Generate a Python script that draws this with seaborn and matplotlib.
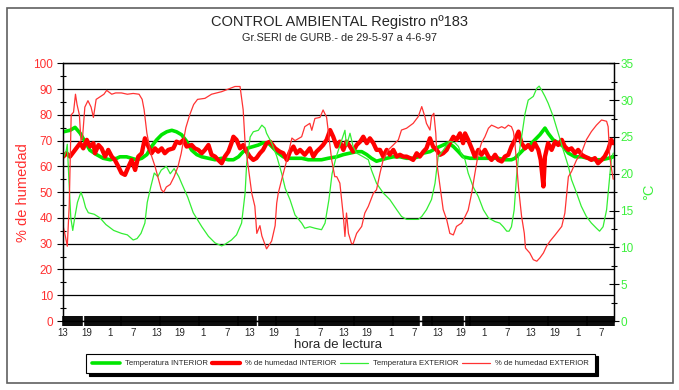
import matplotlib
matplotlib.use("Agg")
import matplotlib.pyplot as plt
from matplotlib.lines import Line2D
from matplotlib.patches import Rectangle
from matplotlib.ticker import FixedLocator, MultipleLocator
import numpy as np
import pandas as pd
import seaborn as sns

title = "CONTROL AMBIENTAL Registro nº183"
subtitle = "Gr.SERI de GURB.- de 29-5-97 a 4-6-97"
series_names = ["Temperatura INTERIOR", "% de humedad INTERIOR",
                "Temperatura EXTERIOR", "% de humedad EXTERIOR"]
hour_labels = ["13", "19", "1", "7"] * 6
label_hours = list(range(0, 139, 6))
axis_gaps = [5.2, 49.9, 91.8, 102.9]

# (hours since first reading, value)
temp_int = [(0.1, 25.7), (1.8, 25.9), (3.1, 26.3), (4.4, 25.5), (5.6, 24.4), (6.9, 23.2), (8.6, 22.6),
            (10.3, 22.1), (12.1, 21.9), (13.8, 22.1), (14.6, 22.3), (16.3, 22.3), (17.6, 22.1), (18.9, 21.9),
            (20.2, 22.1), (21.5, 22.6), (22.7, 23.7), (24.0, 24.6), (25.3, 25.3), (26.6, 25.7), (27.9, 25.9),
            (29.1, 25.7), (30.4, 25.3), (31.7, 24.4), (33.0, 23.2), (34.3, 22.6), (35.6, 22.3), (37.3, 22.1),
            (39.0, 21.9), (40.7, 22.1), (42.4, 21.9), (43.7, 21.9), (45.0, 22.3), (46.2, 23.0), (47.5, 23.5),
            (48.8, 23.7), (50.1, 23.9), (51.3, 24.2), (52.6, 24.2), (53.9, 23.5), (55.2, 22.8), (56.5, 22.3),
            (57.8, 22.1), (59.5, 22.1), (61.2, 22.1), (62.9, 21.9), (64.6, 21.9), (66.3, 21.9), (68.0, 22.1),
            (70.2, 22.3), (71.9, 22.6), (73.6, 22.8), (75.3, 23.0), (76.6, 23.0), (77.9, 22.6), (79.1, 22.1),
            (80.4, 21.7), (81.7, 21.9), (83.0, 22.1), (84.7, 22.3), (86.4, 22.3), (88.1, 22.1), (89.8, 22.1),
            (91.1, 22.3), (92.4, 22.8), (94.1, 23.0), (95.8, 23.5), (97.5, 23.9), (98.8, 24.2), (100.1, 23.7),
            (101.4, 23.0), (102.6, 22.3), (104.4, 22.1), (106.5, 22.1), (108.2, 22.1), (109.9, 22.1),
            (111.6, 22.1), (113.3, 21.9), (115.0, 21.9), (115.9, 22.1), (117.2, 22.8), (118.5, 23.5),
            (119.7, 23.9), (121.0, 24.6), (122.3, 25.3), (123.6, 26.2), (124.4, 25.5), (125.7, 24.6),
            (127.0, 24.2), (128.3, 23.7), (129.6, 22.8), (131.3, 22.3), (133.0, 22.3), (134.7, 22.1),
            (136.4, 21.9), (138.1, 21.9), (139.8, 22.1), (141.1, 22.3)]

hum_int = [(0.1, 63.8), (0.9, 65.1), (1.8, 63.8), (3.1, 66.4), (4.4, 69.0), (5.2, 67.0), (6.1, 70.3),
           (6.9, 67.7), (7.8, 69.0), (8.2, 65.1), (9.1, 68.3), (9.9, 67.0), (10.8, 63.8), (11.6, 66.4),
           (12.5, 63.8), (13.3, 62.5), (14.2, 59.9), (15.0, 57.4), (15.9, 56.7), (16.8, 59.9), (17.6, 62.5),
           (18.5, 58.6), (19.3, 63.8), (20.2, 65.1), (21.0, 70.9), (21.9, 67.7), (22.7, 65.1), (23.6, 67.0),
           (24.4, 65.7), (25.3, 67.0), (26.1, 65.1), (27.0, 66.4), (28.3, 67.0), (29.1, 69.6), (30.0, 69.0),
           (30.9, 70.3), (31.7, 67.7), (33.0, 68.3), (33.8, 67.0), (34.7, 66.4), (35.6, 65.1), (36.4, 66.4),
           (37.3, 68.3), (38.1, 64.5), (39.0, 63.8), (39.8, 62.5), (40.7, 61.2), (41.5, 63.8), (42.4, 65.7),
           (43.2, 69.0), (43.7, 71.5), (44.5, 70.3), (45.4, 67.0), (46.2, 68.3), (47.1, 65.7), (47.9, 63.8),
           (48.8, 62.5), (49.6, 63.2), (50.5, 65.1), (51.3, 66.4), (52.2, 69.0), (53.1, 69.6), (54.4, 67.0),
           (55.6, 65.7), (56.5, 65.1), (57.4, 62.5), (58.2, 65.7), (59.1, 67.7), (59.9, 65.1), (60.8, 66.4),
           (62.0, 64.5), (63.3, 67.0), (64.2, 63.8), (65.0, 65.7), (65.9, 67.0), (66.7, 68.3), (67.6, 70.3),
           (68.5, 74.1), (69.3, 71.5), (70.2, 67.7), (71.0, 69.6), (71.9, 66.4), (72.7, 69.6), (73.6, 67.7),
           (74.4, 65.7), (75.3, 68.3), (76.2, 69.6), (77.0, 71.5), (77.9, 69.0), (78.7, 70.9), (79.6, 69.0),
           (80.4, 66.4), (81.3, 66.4), (82.1, 63.8), (83.0, 66.4), (83.8, 64.5), (84.7, 66.4), (85.6, 63.8),
           (86.4, 64.5), (87.3, 63.8), (88.1, 63.8), (89.0, 63.2), (89.8, 62.5), (90.7, 65.1), (91.5, 63.8),
           (92.4, 65.7), (93.2, 67.0), (94.1, 70.9), (94.9, 67.7), (95.8, 66.4), (96.7, 64.5), (97.5, 65.1),
           (98.4, 66.4), (99.2, 69.0), (100.1, 71.5), (100.9, 70.3), (101.8, 72.8), (102.6, 69.0),
           (103.1, 72.8), (103.9, 70.3), (104.8, 67.0), (105.6, 63.8), (106.5, 66.4), (107.3, 64.5),
           (108.2, 66.4), (109.1, 63.8), (109.9, 62.5), (110.8, 64.5), (111.6, 62.5), (112.5, 61.9),
           (113.3, 63.8), (114.2, 64.5), (115.0, 67.7), (115.9, 70.3), (116.8, 73.5), (117.6, 69.0),
           (118.5, 67.0), (119.3, 68.3), (120.2, 66.4), (121.0, 69.0), (121.9, 66.4), (122.5, 62.5),
           (123.2, 52.2), (123.6, 63.8), (124.4, 69.0), (125.3, 66.4), (126.2, 69.6), (127.0, 68.3),
           (127.9, 70.3), (128.7, 67.7), (129.6, 66.4), (130.4, 67.0), (131.3, 65.1), (132.1, 66.4),
           (133.0, 64.5), (133.8, 63.8), (134.7, 63.2), (135.5, 62.5), (136.4, 63.2), (137.2, 61.2),
           (138.1, 62.5), (138.9, 63.8), (139.8, 66.4), (140.6, 70.3), (141.1, 69.0)]

temp_ext = [(0, 22.0), (0.8, 23.1), (1.1, 24.0), (1.5, 19.3), (2.0, 14.0), (2.5, 12.3), (3.0, 14.0),
            (3.7, 16.1), (4.6, 17.5), (5.2, 16.6), (5.8, 15.4), (6.5, 14.7), (8, 14.5), (9.5, 14.0),
            (11, 13.1), (13, 12.3), (15, 11.9), (16.5, 11.7), (18, 11.0), (19, 11.2), (20, 11.9), (21, 13.3),
            (21.6, 16.1), (22.5, 18.2), (23.4, 20.1), (24.3, 19.6), (25.2, 20.5), (26.5, 21.0), (27.5, 20.0),
            (28.5, 20.7), (29.7, 19.6), (30.5, 18.6), (32, 16.8), (33.4, 14.7), (35.6, 12.8), (37.3, 11.5),
            (39.0, 10.6), (40.7, 10.2), (41.5, 10.4), (43.2, 11.0), (44.5, 11.7), (45.8, 13.3), (46.7, 17.4),
            (47.1, 21.4), (48.0, 25.0), (48.8, 25.7), (50.1, 25.9), (51.0, 26.6), (51.8, 26.2), (52.2, 25.5),
            (53.5, 24.2), (54.8, 22.4), (56.1, 20.0), (57.0, 18.0), (58.2, 16.5), (59.5, 14.4), (61.2, 13.3),
            (62.0, 12.6), (63.3, 12.8), (64.6, 12.6), (66.3, 12.4), (67.2, 13.3), (68.2, 16.5), (69.0, 20.0),
            (70.0, 22.2), (71.0, 23.8), (72.3, 25.9), (72.7, 23.8), (73.6, 25.5), (74.4, 23.7), (75.3, 22.8),
            (77.0, 22.3), (78.3, 21.9), (79.1, 20.5), (80.4, 18.7), (82.1, 17.4), (83.8, 16.5), (85.6, 15.1),
            (86.8, 14.2), (88.1, 13.8), (89.8, 13.8), (91.1, 13.8), (92.0, 14.2), (93.2, 15.1), (94.5, 16.5),
            (95.4, 18.7), (95.8, 20.5), (96.2, 22.3), (97.5, 23.2), (98.4, 23.9), (99.2, 24.4), (100.5, 24.2),
            (101.4, 23.7), (102.2, 22.6), (103.1, 21.9), (103.9, 20.1), (105.2, 18.2), (106.5, 16.9),
            (107.8, 15.1), (109.1, 14.0), (110.8, 13.5), (112.0, 13.3), (112.9, 12.8), (113.8, 12.2),
            (114.4, 12.2), (115.0, 12.8), (115.7, 15.1), (116.3, 19.6), (116.8, 22.3), (117.6, 25.0),
            (118.5, 28.2), (119.3, 30.0), (120.6, 30.5), (121.5, 31.6), (122.1, 31.9), (122.7, 31.4),
            (123.6, 30.5), (124.4, 29.6), (125.7, 27.8), (127.0, 25.5), (128.3, 23.2), (129.6, 21.0),
            (130.4, 19.2), (131.7, 17.4), (132.9, 15.6), (134.2, 14.2), (135.5, 13.3), (136.8, 12.6),
            (137.6, 12.2), (138.5, 12.8), (139.4, 15.1), (139.9, 17.9), (140.6, 21.9), (141.1, 22.8)]

hum_ext = [(0, 37), (0.6, 33), (1.1, 29), (1.6, 45), (2.1, 80), (2.7, 81), (3.2, 88), (3.6, 84), (4.2, 80),
           (4.6, 70), (5.0, 71), (5.6, 83), (6.4, 85.5), (7.2, 83), (7.8, 79), (8.5, 86), (9.5, 87), (10.5, 88),
           (11.2, 89.5), (12.5, 88), (13.5, 88.5), (15, 88.5), (16.5, 88), (18, 88.3), (19.5, 88), (20.3, 86),
           (20.8, 82), (21.5, 73), (22.5, 65), (23.6, 60), (24.5, 55), (25.2, 51), (25.8, 50), (26.5, 52),
           (27.5, 53), (28.5, 56), (29.5, 60), (30.3, 65), (31.5, 75), (32.5, 80), (33.5, 84), (34.5, 86),
           (36.4, 86.4), (38.1, 88), (40.7, 89), (42.4, 90), (44.1, 91), (45.4, 91), (46.2, 82), (46.7, 69),
           (47.5, 60), (48.4, 49.6), (49.2, 44.5), (49.7, 34), (50.5, 37), (51.0, 33), (52.2, 28), (53.5, 31),
           (54.4, 37), (54.8, 45.7), (55.2, 49.6), (56.1, 55), (57.4, 62.5), (58.7, 71), (59.5, 70),
           (61.2, 71.5), (62.0, 75.4), (63.3, 76.7), (63.8, 74), (64.6, 78.6), (65.9, 79), (66.7, 81.9),
           (67.6, 79), (68.0, 74), (68.9, 62.5), (69.7, 56), (70.2, 56), (71.0, 53.5), (71.9, 40.6),
           (72.3, 32.8), (72.7, 41.9), (73.2, 34), (74.0, 30), (74.4, 30), (75.3, 34), (76.6, 36.7),
           (77.4, 41.9), (78.3, 44.5), (79.6, 49.6), (80.4, 50.9), (81.3, 57.4), (82.1, 62.5), (83.4, 66.4),
           (84.7, 68.3), (86.0, 70.3), (86.8, 74.1), (88.1, 74.8), (89.8, 76.7), (91.1, 79.3), (92.0, 83.2),
           (92.8, 79.3), (93.2, 76.7), (94.1, 74.1), (94.5, 79.3), (95.1, 80.6), (95.6, 72.8), (96.0, 59.9),
           (96.7, 52.2), (97.5, 43.2), (98.4, 39.3), (99.2, 34), (100.1, 33.4), (100.9, 36.7), (102.2, 38),
           (103.1, 40.5), (103.9, 43), (104.8, 49.6), (105.6, 57), (106.5, 65), (107.3, 69), (108.2, 71.5),
           (109.1, 74.8), (109.9, 76), (110.8, 75.4), (111.6, 74.8), (112.5, 75.4), (113.3, 74.8),
           (114.2, 76), (115.0, 75.4), (115.5, 73.5), (115.9, 69), (116.8, 52), (117.6, 40.6), (118.3, 34),
           (118.6, 28.3), (119.7, 26.4), (120.6, 23.8), (121.5, 23.2), (122.3, 24.5), (123.2, 26.4),
           (124.0, 29), (124.9, 31), (126.2, 33.4), (127.9, 36.7), (128.7, 41.9), (129.6, 56), (130.4, 58),
           (131.7, 62.5), (132.9, 65), (134.2, 70.3), (135.5, 73.5), (136.8, 76), (138.1, 78), (139.4, 77.5),
           (139.8, 75.4), (140.2, 63.8), (140.7, 58.7), (141.1, 55)]

GREEN = "#00e600"
GREEN_THIN = "#33ee33"
RED = "#ff0000"
RED_THIN = "#ff3333"
RED_TXT = "#ff3030"
GREEN_TXT = "#3cf03c"

sns.set_style("ticks")
plt.rcParams["font.family"] = ["Liberation Sans", "DejaVu Sans"]

fig = plt.figure(figsize=(6.79, 3.9), dpi=100)
ax = fig.add_axes([63 / 679, 1 - 321 / 390, 551 / 679, 257.7 / 390])
ax2 = ax.twinx()
ax.set_zorder(ax2.get_zorder() + 1)
ax.patch.set_visible(False)


def to_frame(pairs):
    return pd.DataFrame(pairs, columns=["hora", "valor"])


# all lines drawn on the top axes so the stacking follows the legend order;
# temperature lines use the right-hand scale
styles = [(temp_int, GREEN, 2.6, ax2.transData),
          (hum_int, RED, 3.1, ax.transData),
          (temp_ext, GREEN_THIN, 0.9, ax2.transData),
          (hum_ext, RED_THIN, 0.9, ax.transData)]
for pairs, col, lw, trf in styles:
    sns.lineplot(data=to_frame(pairs), x="hora", y="valor", ax=ax, color=col, linewidth=lw,
                 errorbar=None, transform=trf, legend=False)

ax.set_xlim(0, 141.3)
ax.set_ylim(0, 100)
ax2.set_ylim(0, 35)
ax.set_xlabel("hora de lectura", fontsize=9.5, labelpad=1)
ax.set_ylabel("% de humedad", color=RED_TXT, fontsize=10.5, labelpad=2)
ax2.set_ylabel("°C", color=GREEN_TXT, fontsize=10.5, labelpad=6)

ax.set_yticks(range(0, 101, 10))
ax.yaxis.set_minor_locator(MultipleLocator(5))
ax2.set_yticks(range(0, 36, 5))
ax2.yaxis.set_minor_locator(MultipleLocator(2.5))
ax.tick_params(axis="y", which="major", direction="out", length=4.3, width=0.8, color="black",
               labelsize=8.5, labelcolor=RED_TXT, pad=3)
ax.tick_params(axis="y", which="minor", direction="inout", length=5, width=0.8, color="black")
ax2.tick_params(axis="y", which="major", direction="inout", length=7, width=0.8, color="black",
                labelsize=8.5, labelcolor=GREEN_TXT, pad=1)
ax2.tick_params(axis="y", which="minor", direction="inout", length=5, width=0.8, color="black")

ax.set_xticks(label_hours, hour_labels)
minor_pos = [p for p in np.arange(0, 141.3, 0.25) if min(abs(p - g) for g in axis_gaps) > 0.3]
ax.xaxis.set_minor_locator(FixedLocator(minor_pos))
ax.tick_params(axis="x", which="both", direction="inout", length=7.2, width=1.1, color="black")
ax.tick_params(axis="x", which="major", labelsize=7, pad=1.5)

ax.grid(axis="y", which="major", color="black", linewidth=0.9)
ax.grid(axis="x", visible=False)
for a in (ax, ax2):
    for s in a.spines.values():
        s.set_color("black")
        s.set_linewidth(0.9)

fig.text(0.5, 1 - 22 / 390, title, ha="center", va="center", fontsize=10.5)
fig.text(0.5, 1 - 38 / 390, subtitle, ha="center", va="center", fontsize=7.8)

handles = [Line2D([], [], color=GREEN, lw=2.6), Line2D([], [], color=RED, lw=3.1),
           Line2D([], [], color=GREEN_THIN, lw=0.9), Line2D([], [], color=RED_THIN, lw=0.9)]
leg = fig.legend(handles, series_names, loc="center", bbox_to_anchor=(0.5015, 1 - 363.5 / 390), ncol=4,
                 fontsize=5.6, frameon=True, fancybox=False, framealpha=1,
                 edgecolor="black", handlelength=3.6, handletextpad=0.6, columnspacing=0.5, borderpad=0.8,
                 shadow={"facecolor": "black", "edgecolor": "black", "alpha": 1})
leg.get_frame().set_linewidth(0.8)

fig.patches.append(Rectangle((7 / 679, 1 - 383 / 390), 666 / 679, 375 / 390, transform=fig.transFigure,
                             fill=False, edgecolor="#606060", linewidth=1.2))

fig.savefig("out.png", dpi=100)
